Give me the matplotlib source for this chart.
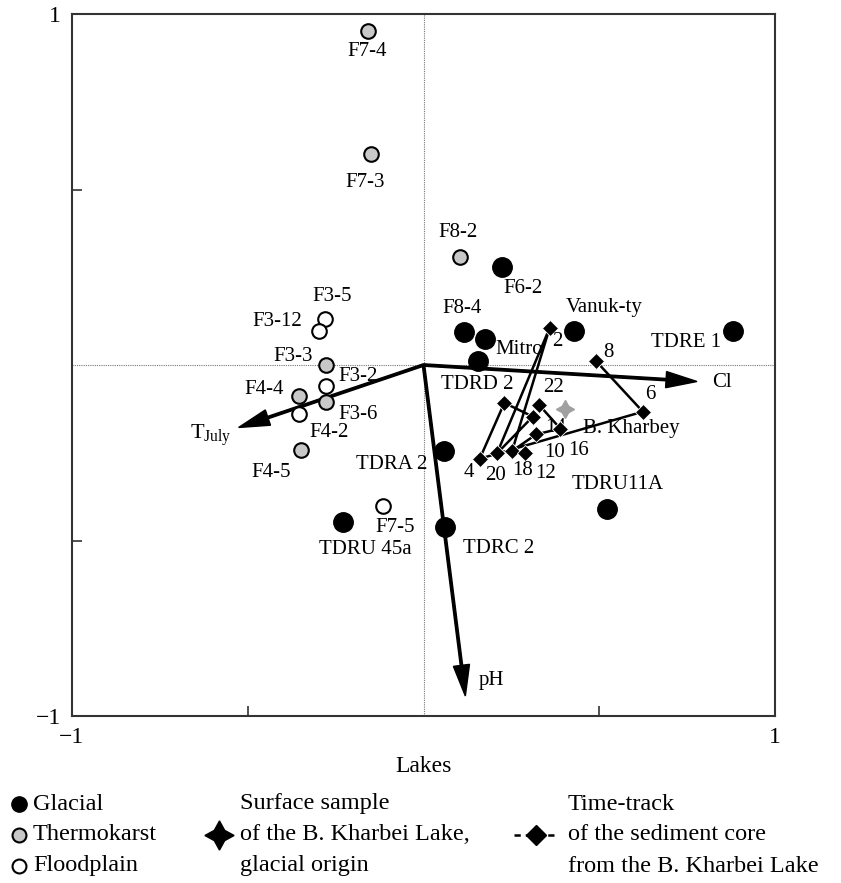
import matplotlib
matplotlib.use("Agg")
import matplotlib.pyplot as plt
from matplotlib.lines import Line2D

plt.rcParams['font.family'] = ['Liberation Serif', 'DejaVu Serif']
plt.rcParams['mathtext.fontset'] = 'custom'
plt.rcParams['mathtext.rm'] = 'Liberation Serif'

# ---------------- data ----------------
glacial_labels = ["F6-2", "F8-4", "Mitro", "TDRD 2", "Vanuk-ty", "TDRE 1",
                  "TDRU11A", "TDRA 2", "TDRC 2", "TDRU 45a"]
glacial_x = [0.224, 0.114, 0.176, 0.156, 0.429, 0.881, 0.523, 0.057, 0.060, -0.230]
glacial_y = [0.280, 0.095, 0.073, 0.010, 0.098, 0.098, -0.411, -0.246, -0.462, -0.448]

thermo_labels = ["F7-4", "F7-3", "F8-2", "F3-3", "F4-4", "F3-6", "F4-5"]
thermo_x = [-0.159, -0.148, 0.105, -0.278, -0.355, -0.276, -0.349]
thermo_y = [0.952, 0.602, 0.309, 0.001, -0.087, -0.104, -0.243]

flood_labels = ["F3-5", "F3-12", "F3-2", "F4-2", "F7-5"]
flood_x = [-0.281, -0.298, -0.278, -0.355, -0.116]
flood_y = [0.132, 0.098, -0.061, -0.141, -0.403]

# sediment core time-track (drawing order)
track_labels = ["8", "6", "4", "", "14", "20", "2", "18", "10", "16", "22"]
track_x = [0.491, 0.624, 0.160, 0.230, 0.311, 0.209, 0.359, 0.252, 0.320, 0.389, 0.330]
track_y = [0.011, -0.133, -0.267, -0.108, -0.147, -0.252, 0.106, -0.245, -0.198, -0.181, -0.115]
track12_x = [0.290]
track12_y = [-0.250]

surface_x = [0.403]
surface_y = [-0.125]

env_labels = ["Cl", "T$_{\\mathrm{July}}$", "pH"]
env_x = [0.778, -0.526, 0.119]
env_y = [-0.047, -0.178, -0.943]

# ---------------- label offsets (pixels, y down) ----------------
glacial_off = [(21, 22), (-2, -23), (34, 10), (-1, 23), (30, -23), (-47, 12),
               (10, -25), (-52, 13), (54, 21), (23, 27)]
thermo_off = [(0, 21), (-6, 29), (-2, -24), (-33, -8), (-35, -6), (32, 13), (-30, 22)]
flood_off = [(7, -22), (-42, -9), (32, -10), (30, 18), (12, 21)]
track_off = [(12, -9), (7, -17), (-11, 14), (0, 0), (23, 11), (-1, 22), (8, 14),
             (10, 20), (19, 18), (18, 22), (14, -18)]
track12_off = (20, 21)
env_off = [(15, 1), (-28, 8), (13, -15)]

W, H = 841, 883
fig = plt.figure(figsize=(W / 100, H / 100), dpi=100)
ax = fig.add_axes([72 / W, 1 - 716 / H, 703 / W, 702 / H])
ax.set_xlim(-1, 1)
ax.set_ylim(-1, 1)

FS = 15
PX = 0.72  # points per pixel


def lab(text, x, y, off, z=6, **kw):
    ax.annotate(text, xy=(x, y), xytext=(off[0] * PX, -off[1] * PX),
                textcoords='offset points', ha='center', va='center',
                fontsize=FS, zorder=z, **kw)


# reference lines
ax.axhline(0, color='#777777', lw=0.8, ls=(0, (1, 1)), zorder=1)
ax.axvline(0, color='#777777', lw=0.8, ls=(0, (1, 1)), zorder=1)

# environmental arrows
for lx, ly in zip(env_x, env_y):
    ax.arrow(0, 0, lx, ly, width=0.0068, head_width=0.046, head_length=0.088,
             length_includes_head=True, color='black', zorder=3)
ax.annotate(env_labels[0], xy=(env_x[0], env_y[0]), xytext=(env_off[0][0] * PX, -env_off[0][1] * PX),
            textcoords='offset points', ha='left', va='center', fontsize=FS)
ax.annotate(env_labels[1], xy=(env_x[1], env_y[1]), xytext=(env_off[1][0] * PX, -env_off[1][1] * PX),
            textcoords='offset points', ha='center', va='center', fontsize=FS + 1)
ax.annotate(env_labels[2], xy=(env_x[2], env_y[2]), xytext=(env_off[2][0] * PX, -env_off[2][1] * PX),
            textcoords='offset points', ha='left', va='center', fontsize=FS)

# time-track
ax.plot(track_x, track_y, color='black', lw=1.8, zorder=4)
ax.plot(track_x + track12_x, track_y + track12_y, ls='none', marker='D', ms=8.5,
        color='black', mec='white', mew=0.6, zorder=5)
for t, x, y, o in zip(track_labels, track_x, track_y, track_off):
    if t:
        lab(t, x, y, o, z=2 if t == "14" else 6)
lab("12", track12_x[0], track12_y[0], track12_off)

# surface sample
ax.plot(surface_x, surface_y, ls='none', marker=(4, 1, 0), ms=13, color='#a0a0a0', zorder=5)
ax.annotate("B. Kharbey", xy=(surface_x[0], surface_y[0]), xytext=(13, -14),
            textcoords='offset points', ha='left', va='center', fontsize=FS, zorder=6)

# lake points
ax.plot(glacial_x, glacial_y, ls='none', marker='o', ms=14, mfc='black', mec='black', zorder=5)
ax.plot(thermo_x, thermo_y, ls='none', marker='o', ms=10.5, mfc='#c8c8c8', mec='black', mew=1.5, zorder=5)
ax.plot(flood_x, flood_y, ls='none', marker='o', ms=10.5, mfc='white', mec='black', mew=1.5, zorder=5)
for t, x, y, o in zip(glacial_labels, glacial_x, glacial_y, glacial_off):
    lab(t, x, y, o)
for t, x, y, o in zip(thermo_labels, thermo_x, thermo_y, thermo_off):
    lab(t, x, y, o)
for t, x, y, o in zip(flood_labels, flood_x, flood_y, flood_off):
    lab(t, x, y, o)

# axes styling
for s in ax.spines.values():
    s.set_color('#333333')
    s.set_linewidth(1.5)
ax.set_xticks([-1, -0.5, 0.5, 1])
ax.set_xticklabels(['\u22121', '', '', '1'])
ax.set_yticks([-1, -0.5, 0.5, 1])
ax.set_yticklabels(['\u22121', '', '', '1'])
ax.tick_params(direction='in', length=7, width=1.2, color='#333333', labelsize=17, pad=8)
ax.set_xlabel("Lakes", fontsize=17, labelpad=6)


# ---------------- legend (figure pixel coords) ----------------
def fx(x):
    return x / W


def fy(y):
    return 1 - y / H


LFS = 17.5
rows = [804, 835, 866]
fig.add_artist(Line2D([fx(19)], [fy(rows[0])], marker='o', ms=11, mfc='black', mec='black',
                      transform=fig.transFigure))
fig.add_artist(Line2D([fx(19)], [fy(rows[1])], marker='o', ms=10, mfc='#c8c8c8', mec='black', mew=1.5,
                      transform=fig.transFigure))
fig.add_artist(Line2D([fx(19)], [fy(rows[2])], marker='o', ms=10, mfc='white', mec='black', mew=1.5,
                      transform=fig.transFigure))
for t, r in zip(["Glacial", "Thermokarst", "Floodplain"], rows):
    fig.text(fx(33), fy(r), t, fontsize=LFS, va='center', ha='left')

fig.add_artist(Line2D([fx(219)], [fy(rows[1])], marker=(4, 1, 0), ms=21, color='black',
                      transform=fig.transFigure))
for t, r in zip(["Surface sample", "of the B. Kharbei Lake,", "glacial origin"], rows):
    fig.text(fx(240), fy(r), t, fontsize=LFS, va='center', ha='left')

fig.add_artist(Line2D([fx(514), fx(558)], [fy(rows[1]), fy(rows[1])], color='black', lw=1.8,
                      ls=(0, (2.5, 2)), transform=fig.transFigure))
fig.add_artist(Line2D([fx(536)], [fy(rows[1])], marker='D', ms=10, color='black',
                      transform=fig.transFigure))
for t, r in zip(["Time-track", "of the sediment core", "from the B. Kharbei Lake"], rows):
    fig.text(fx(568), fy(r), t, fontsize=LFS, va='center', ha='left')

fig.savefig("out.png", dpi=100)
